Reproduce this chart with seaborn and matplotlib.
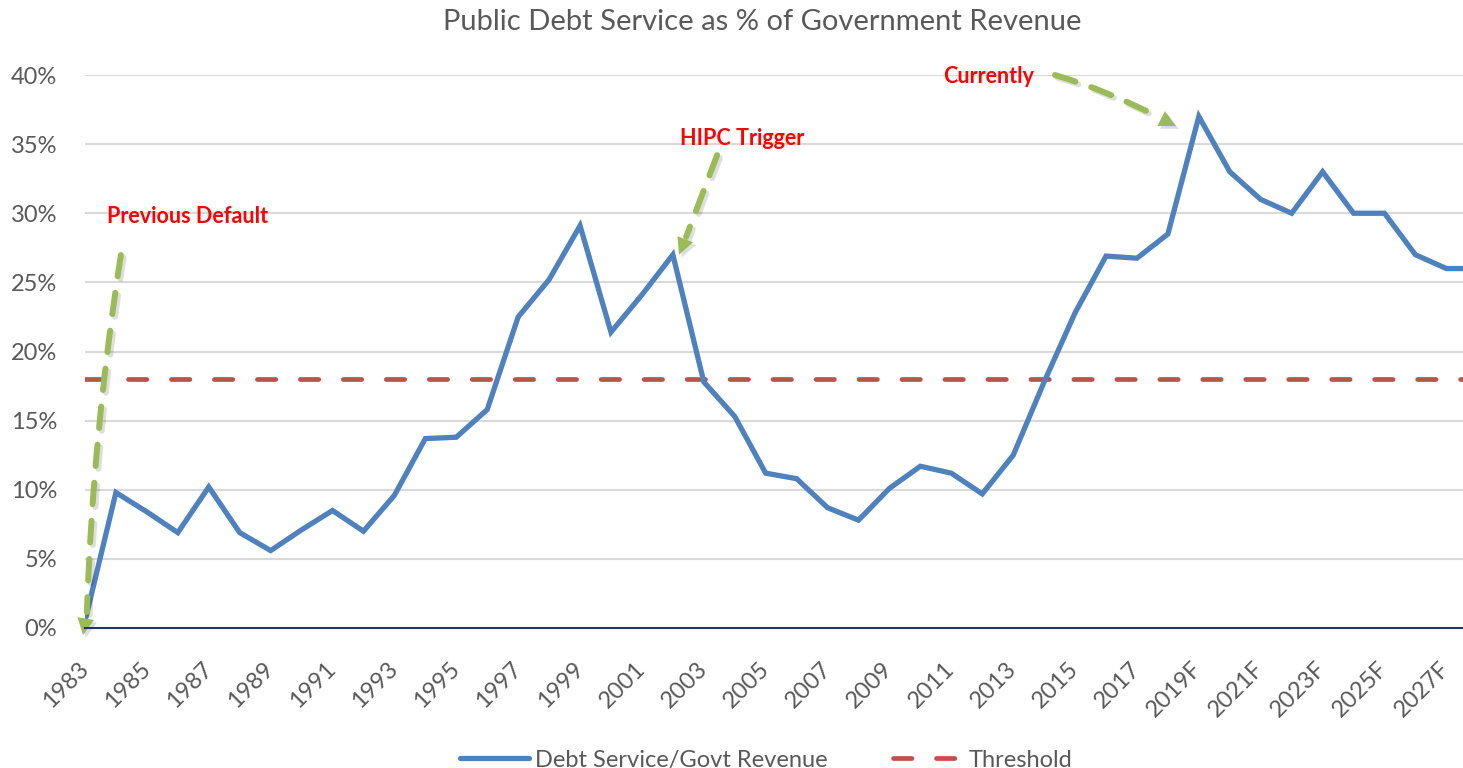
import matplotlib
matplotlib.use("Agg")
import matplotlib.pyplot as plt
import matplotlib.patheffects as pe
import seaborn as sns
import pandas as pd
import numpy as np

# --- data ---
years = [str(y) for y in range(1983, 2019)] + [f"{y}F" for y in range(2019, 2029)]
debt_service = [0.5, 9.8, 8.4, 6.9, 10.2, 6.9, 5.6, 7.1, 8.5, 7.0,
                9.6, 13.7, 13.8, 15.8, 22.5, 25.2, 29.1, 21.4, 24.1, 27.0,
                17.8, 15.3, 11.2, 10.8, 8.7, 7.8, 10.1, 11.7, 11.2, 9.7,
                12.5, 17.8, 22.8, 26.9, 26.75, 28.5, 37.0, 33.0, 31.0, 30.0,
                33.0, 30.0, 30.0, 27.0, 26.0, 26.0]
THRESHOLD = 18.0
y_ticks = [0, 5, 10, 15, 20, 25, 30, 35, 40]

BLUE = "#4F81BD"
RED = "#C0504D"
GREEN = "#9BBB59"
GREY = "#595959"

df = pd.DataFrame({"idx": np.arange(len(years)), "year": years, "value": debt_service})

sns.set_theme(style="white")
plt.rcParams["font.family"] = ["Lato", "DejaVu Sans"]

fig = plt.figure(figsize=(14.63, 7.68), dpi=100)
ax = fig.add_axes([85 / 1463, 140 / 768, 1 - 85 / 1463, 553 / 768])

sns.lineplot(data=df, x="idx", y="value", ax=ax, color=BLUE, linewidth=3.8,
             label="Debt Service/Govt Revenue", legend=False)
ax.lines[0].set_solid_joinstyle("miter")
ax.axhline(THRESHOLD, color=RED, linewidth=3.4, linestyle=(0, (3.9, 5.2)),
           dash_capstyle="round", label="Threshold", zorder=1)

ax.set_xlim(0, (1463 - 85) / 30.94)
ax.set_ylim(0, 40)
ax.set_yticks(y_ticks)
ax.set_yticklabels([f"{t}%" for t in y_ticks])
ax.set_xticks(df["idx"][::2])
ax.set_xticklabels(df["year"][::2], rotation=45, ha="right", va="center",
                   rotation_mode="anchor")
ax.tick_params(axis="y", length=0, pad=20, labelsize=17, labelcolor=GREY)
ax.tick_params(axis="x", length=0, pad=27, labelsize=17, labelcolor=GREY)
ax.set_xlabel("")
ax.set_ylabel("")
ax.grid(axis="y", color="#D9D9D9", linewidth=1.5)
ax.set_axisbelow(True)
for s in ["top", "right", "left"]:
    ax.spines[s].set_visible(False)
ax.spines["bottom"].set_color("#203864")
ax.spines["bottom"].set_linewidth(1.5)
ax.spines["bottom"].set_zorder(3)

# --- annotations ---
txt = dict(color="red", fontweight="bold", fontsize=15.5, va="center", ha="left")
ax.text(0.71, 29.8, "Previous Default", **txt)
ax.text(19.23, 35.4, "HIPC Trigger", **txt)
ax.text(27.73, 39.86, "Currently", **txt)

line_shadow = [pe.SimpleLineShadow(offset=(2, -2), shadow_color="black", alpha=0.13), pe.Normal()]
head_shadow = [pe.SimplePatchShadow(offset=(2, -2), shadow_rgbFace="black", alpha=0.13), pe.Normal()]


def green_arrow(start, base, tip, rad=0.0):
    ax.annotate("", xy=base, xytext=start, annotation_clip=False,
                arrowprops=dict(arrowstyle="-", color=GREEN, lw=4.3,
                                linestyle=(0, (3.6, 2.8)), shrinkA=0, shrinkB=0,
                                connectionstyle=f"arc3,rad={rad}",
                                path_effects=line_shadow, clip_on=False))
    ax.annotate("", xy=tip, xytext=base, annotation_clip=False,
                arrowprops=dict(arrowstyle="-|>", color=GREEN, lw=0,
                                mutation_scale=30, shrinkA=0, shrinkB=0,
                                path_effects=head_shadow, clip_on=False))


green_arrow((1.16, 26.98), (0.06, 1.16), (-0.065, -0.51), rad=0.03)
green_arrow((20.43, 34.2), (19.43, 28.3), (19.2, 27.0))
green_arrow((31.35, 40.0), (34.74, 36.9), (35.26, 36.3), rad=-0.05)

fig.text(0.521, 1 - 22 / 768, "Public Debt Service as % of Government Revenue",
         ha="center", va="center", fontsize=21, color=GREY)

handles, labels = ax.get_legend_handles_labels()
fig.legend(handles, labels, loc="lower center", bbox_to_anchor=(0.5236, -0.031),
           ncol=2, frameon=False, fontsize=17, handlelength=2.95,
           columnspacing=2.75, handletextpad=0.25, labelcolor=GREY)

fig.savefig("out.png", dpi=100)
